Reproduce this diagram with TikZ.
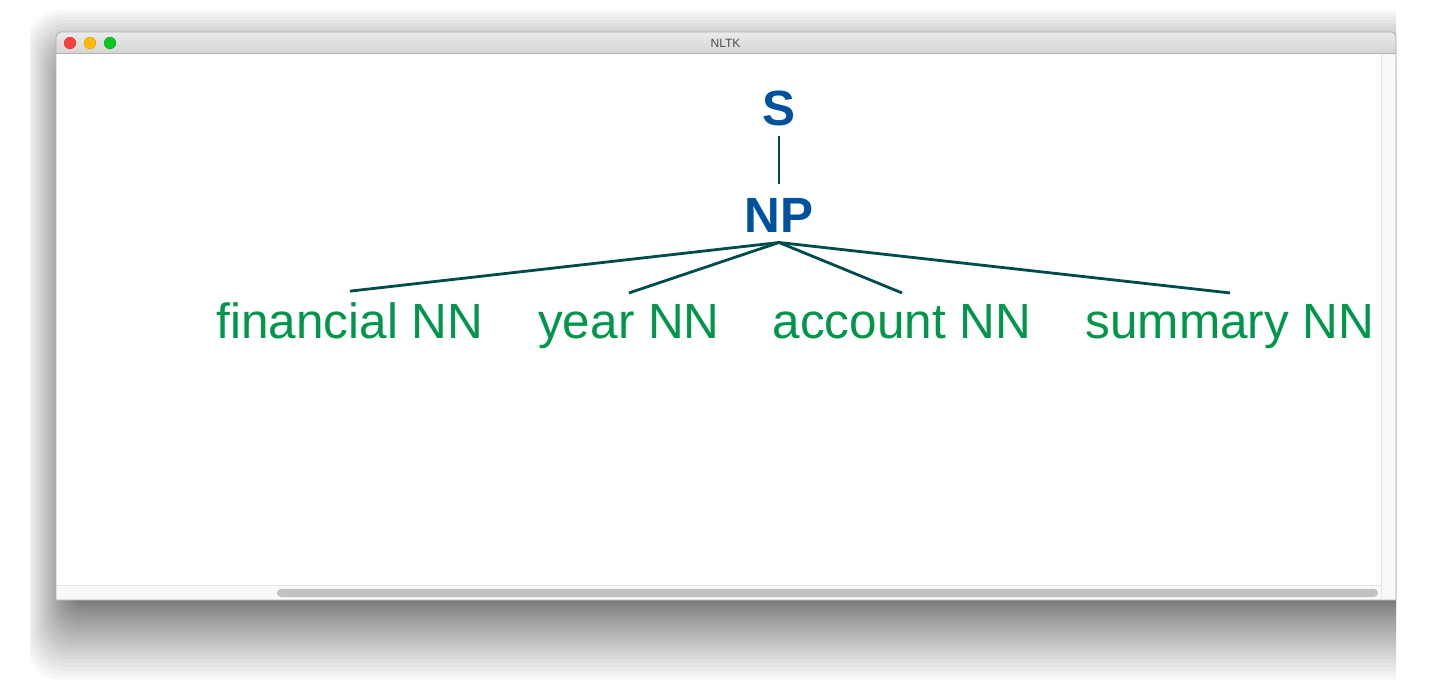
\documentclass[tikz,border=0pt]{standalone}
\usepackage{fontspec}
\setmainfont{Liberation Sans}
\definecolor{nodeblue}{HTML}{00519E}
\definecolor{leafgreen}{HTML}{00974A}
\definecolor{edgeteal}{HTML}{004C4C}
\definecolor{tbtop}{HTML}{EBEBEB}
\definecolor{tbbot}{HTML}{D4D4D4}
\definecolor{tbline}{HTML}{B2B2B2}
\definecolor{winedge}{HTML}{B0B0B0}
\definecolor{trackbg}{HTML}{F9F9F9}
\definecolor{trackline}{HTML}{E4E4E4}
\definecolor{thumbgray}{HTML}{C1C1C1}
\definecolor{titlegray}{HTML}{4D4D4D}
\definecolor{tlred}{HTML}{FF3F3F}
\definecolor{tlredb}{HTML}{E02E2E}
\definecolor{tlyellow}{HTML}{FFBA00}
\definecolor{tlyellowb}{HTML}{E0A000}
\definecolor{tlgreen}{HTML}{0CC81E}
\definecolor{tlgreenb}{HTML}{00AA14}
\begin{document}
\begin{tikzpicture}[x=1pt,y=-1pt,
  tnode/.style={font=\fontsize{49.5}{60}\selectfont\bfseries, text=nodeblue,
    inner sep=0pt, outer sep=10.5pt, anchor=base},
  lnode/.style={font=\fontsize{49.5}{60}\selectfont, text=leafgreen,
    inner sep=0pt, outer xsep=0pt, outer ysep=11pt, anchor=base},
  edge/.style={draw=edgeteal, line width=2.8pt},
  light/.style={line width=0.6pt}]
\useasboundingbox (0,0) rectangle (1452,680);
% shadow
\begin{scope}
\clip (30,0) rectangle (1396,680);
\foreach \i in {1,...,40}{
  \pgfmathsetmacro\t{\i/40}
  \pgfmathsetmacro\L{76-50*\t*\t}
  \pgfmathsetmacro\T{80-70*\t*\t}
  \pgfmathsetmacro\B{590+90*\t*\t}
  \pgfmathsetmacro\R{1396+40*\t}
  \pgfmathsetmacro\rr{6+30*\t}
  \fill[black,opacity=0.026,rounded corners=\rr pt] (\L,\T) rectangle (\R,\B);
}
\end{scope}
% window body
\fill[white] (56,600) -- (56,37) arc[start angle=180,end angle=270,radius=5]
  -- (1391,32) arc[start angle=270,end angle=360,radius=5] -- (1396,600) -- cycle;
% title bar
\shade[top color=tbtop,bottom color=tbbot] (56,53.5) -- (56,37)
  arc[start angle=180,end angle=270,radius=5] -- (1391,32)
  arc[start angle=270,end angle=360,radius=5] -- (1396,53.5) -- cycle;
\draw[tbline,line width=1pt] (56,53.5) -- (1396,53.5);
\node[font=\fontsize{12}{14}\selectfont, text=titlegray, inner sep=0pt] (title) at (725.5,43) {NLTK};
% traffic lights
\fill[tlred,draw=tlredb,line width=0.5pt] (70,43) circle[radius=5.8];
\fill[tlyellow,draw=tlyellowb,line width=0.5pt] (90,43) circle[radius=5.8];
\fill[tlgreen,draw=tlgreenb,line width=0.5pt] (110,43) circle[radius=5.8];
% scrollbars
\fill[trackbg] (1381,54) rectangle (1396,600);
\fill[trackbg] (56,585) rectangle (1396,600);
\draw[trackline,light] (56,585.3) -- (1381.5,585.3);
\draw[trackline,light] (1381.5,54) -- (1381.5,600);
\fill[thumbgray,rounded corners=4pt] (277,589) rectangle (1378,597);
% window outline
\draw[winedge,line width=0.8pt] (56,600) -- (56,37) arc[start angle=180,end angle=270,radius=5]
  -- (1391,32) arc[start angle=270,end angle=360,radius=5] -- (1396,600) -- cycle;
% tree
\node[tnode] (S) at (779,125) {S};
\node[tnode] (NP) at (779,232) {NP};
\node[lnode] (fin) at (350,338) {financial NN};
\node[lnode] (year) at (629,338) {year NN};
\node[lnode] (acc) at (902,338) {account NN};
\node[lnode] (sum) at (1230,338) {summary NN};
\draw[edge] (S.south) -- ([yshift=3pt]NP.north);
\draw[edge] (NP.south) -- (fin.north);
\draw[edge] (NP.south) -- (year.north);
\draw[edge] (NP.south) -- (acc.north);
\draw[edge] (NP.south) -- (sum.north);
\end{tikzpicture}
\end{document}
